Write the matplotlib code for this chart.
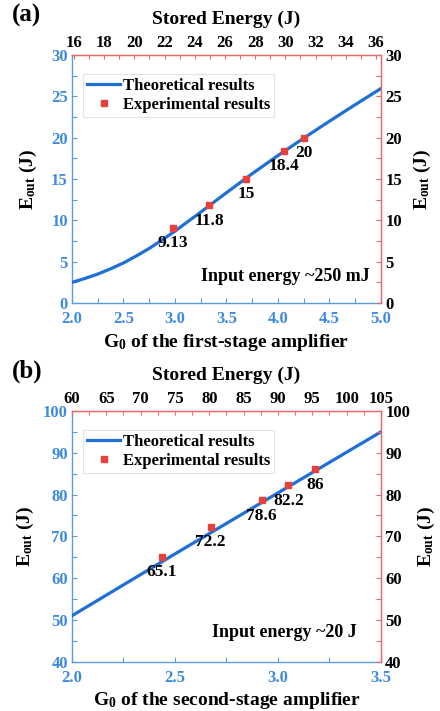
import matplotlib
matplotlib.use('Agg')
import matplotlib.pyplot as plt
from matplotlib.ticker import MultipleLocator, FormatStrFormatter

plt.rcParams['font.family'] = ['Liberation Serif', 'DejaVu Serif']
plt.rcParams['font.weight'] = 'bold'
plt.rcParams['mathtext.fontset'] = 'custom'
plt.rcParams['mathtext.rm'] = 'Liberation Serif:bold'
plt.rcParams['mathtext.bf'] = 'Liberation Serif:bold'
plt.rcParams['mathtext.it'] = 'Liberation Serif:bold'

# (a) 一段目アンプ
g0_a_theory = [2.0, 2.125, 2.25, 2.375, 2.5, 2.625, 2.75, 2.875, 3.0, 3.125, 3.25,
               3.5, 3.75, 4.0, 4.25, 4.5, 4.75, 5.0]
eout_a_theory = [2.5, 2.97, 3.5, 4.14, 4.85, 5.7, 6.6, 7.63, 8.7, 9.85, 11.0,
                 13.35, 15.65, 17.85, 19.95, 22.0, 24.0, 25.95]
g0_a_exp = [2.98, 3.33, 3.69, 4.06, 4.25]
eout_a_exp = [9.13, 11.8, 15, 18.4, 20]
labels_a = ['9.13', '11.8', '15', '18.4', '20']

# (b) 二段目アンプ
g0_b_theory = [2.0, 2.25, 2.5, 2.75, 3.0, 3.25, 3.5]
eout_b_theory = [51.0, 58.4, 65.8, 73.1, 80.4, 87.7, 95.0]
g0_b_exp = [2.435, 2.673, 2.92, 3.05, 3.18]
eout_b_exp = [65.1, 72.2, 78.6, 82.2, 86]
labels_b = ['65.1', '72.2', '78.6', '82.2', '86']

BLUE = '#1f6fd8'
AXBLUE = '#5b9be0'
TICKBLUE = '#3d8ae0'
RED = '#e8413c'
AXRED = '#e86a6a'


def draw_panel(fig, rect, tag, gx, gy, ex, ey, labels, xlim, ylim, ystep,
               toplim, topticks, topminor, xlabel, note, note_pos, ylab_x):
    ax = fig.add_axes(rect)
    ax.plot(gx, gy, color=BLUE, lw=2.3, label='Theoretical results', zorder=3)
    ax.plot(ex, ey, 's', color=RED, ms=5, label='Experimental results', zorder=4)
    for x, y, t in zip(ex, ey, labels):
        ax.annotate(t, (x, y), xytext=(0, -11), textcoords='offset points',
                    ha='center', va='center', fontsize=12.5, fontweight='bold')

    ax.set_xlim(*xlim)
    ax.set_ylim(*ylim)
    ax.xaxis.set_major_locator(MultipleLocator(0.5))
    ax.xaxis.set_minor_locator(MultipleLocator(0.25))
    ax.yaxis.set_major_locator(MultipleLocator(ystep))
    ax.yaxis.set_minor_locator(MultipleLocator(ystep / 2))
    ax.xaxis.set_major_formatter(FormatStrFormatter('%.1f'))
    ax.tick_params(which='both', direction='in', colors=AXBLUE, labelcolor=TICKBLUE,
                   labelsize=12, top=False, right=False, length=3.5, width=0.8)
    ax.tick_params(axis='x', which='major', pad=6)
    ax.tick_params(axis='y', which='major', pad=3)
    ax.spines['left'].set_color(AXBLUE)
    ax.spines['bottom'].set_color(AXBLUE)
    ax.spines['top'].set_color(AXRED)
    ax.spines['right'].set_color(AXRED)
    for s in ax.spines.values():
        s.set_linewidth(1.0)
    ax.set_xlabel(xlabel, fontsize=14, fontweight='bold', labelpad=3)
    ax.set_ylabel(r'E$_{\mathrm{out}}$ (J)', fontsize=14, fontweight='bold',
                  va='center')
    ax.yaxis.set_label_coords(ylab_x[0], 0.5)

    leg = ax.legend(loc='upper left', bbox_to_anchor=(0.035, 0.925), fontsize=12,
                    numpoints=1, fancybox=False, handlelength=2.0, handletextpad=0.15,
                    labelspacing=0.2, borderpad=0.25, borderaxespad=0.0)
    leg.get_frame().set_edgecolor('#dddddd')
    leg.get_frame().set_linewidth(0.8)

    ax.text(note_pos[0], note_pos[1], note, transform=ax.transAxes, ha='right',
            va='center', fontsize=13, fontweight='bold')

    # 右軸
    axr = ax.twinx()
    axr.set_ylim(*ylim)
    axr.yaxis.set_major_locator(MultipleLocator(ystep))
    axr.yaxis.set_minor_locator(MultipleLocator(ystep / 2))
    axr.tick_params(which='both', direction='in', colors=AXRED, labelcolor='black',
                    labelsize=12, length=3.5, width=0.8, pad=3)
    for k in ['left', 'bottom', 'top']:
        axr.spines[k].set_visible(False)
    axr.spines['right'].set_color(AXRED)
    axr.set_ylabel(r'E$_{\mathrm{out}}$ (J)', fontsize=14, fontweight='bold',
                   rotation=90, va='center')
    axr.yaxis.set_label_coords(ylab_x[1], 0.5)

    # 上軸 (Stored Energy)
    axt = ax.twiny()
    axt.set_xlim(*toplim)
    axt.xaxis.set_major_locator(MultipleLocator(topticks))
    axt.xaxis.set_minor_locator(MultipleLocator(topminor))
    axt.tick_params(which='both', direction='in', colors=AXRED, labelcolor='black',
                    labelsize=12, length=3, width=0.8, pad=3)
    for k in ['left', 'bottom', 'right']:
        axt.spines[k].set_visible(False)
    axt.spines['top'].set_color(AXRED)
    axt.set_xlabel('Stored Energy (J)', fontsize=14, fontweight='bold', labelpad=8)

    fig.text(0.028, rect[1] + rect[3] + 0.056, tag, fontsize=18, fontweight='bold',
             ha='left', va='center')
    return ax


fig = plt.figure(figsize=(4.4, 7.11), dpi=100)

draw_panel(fig, [0.1636, 0.5738, 0.7023, 0.3488], '(a)',
           g0_a_theory, eout_a_theory, g0_a_exp, eout_a_exp, labels_a,
           (2.0, 5.0), (0, 30), 5, (15.87, 36.33), 2, 1,
           r'G$_{\mathrm{0}}$ of the first-stage amplifier', 'Input energy ~250 mJ',
           (0.962, 0.105), (-0.142, 1.133))

draw_panel(fig, [0.1636, 0.0693, 0.7023, 0.3527], '(b)',
           g0_b_theory, eout_b_theory, g0_b_exp, eout_b_exp, labels_b,
           (2.0, 3.5), (40, 100), 10, (60, 105), 5, 2.5,
           r'G$_{\mathrm{0}}$ of the second-stage amplifier', 'Input energy ~20 J',
           (0.922, 0.118), (-0.152, 1.147))

fig.savefig('out.png', dpi=100)
